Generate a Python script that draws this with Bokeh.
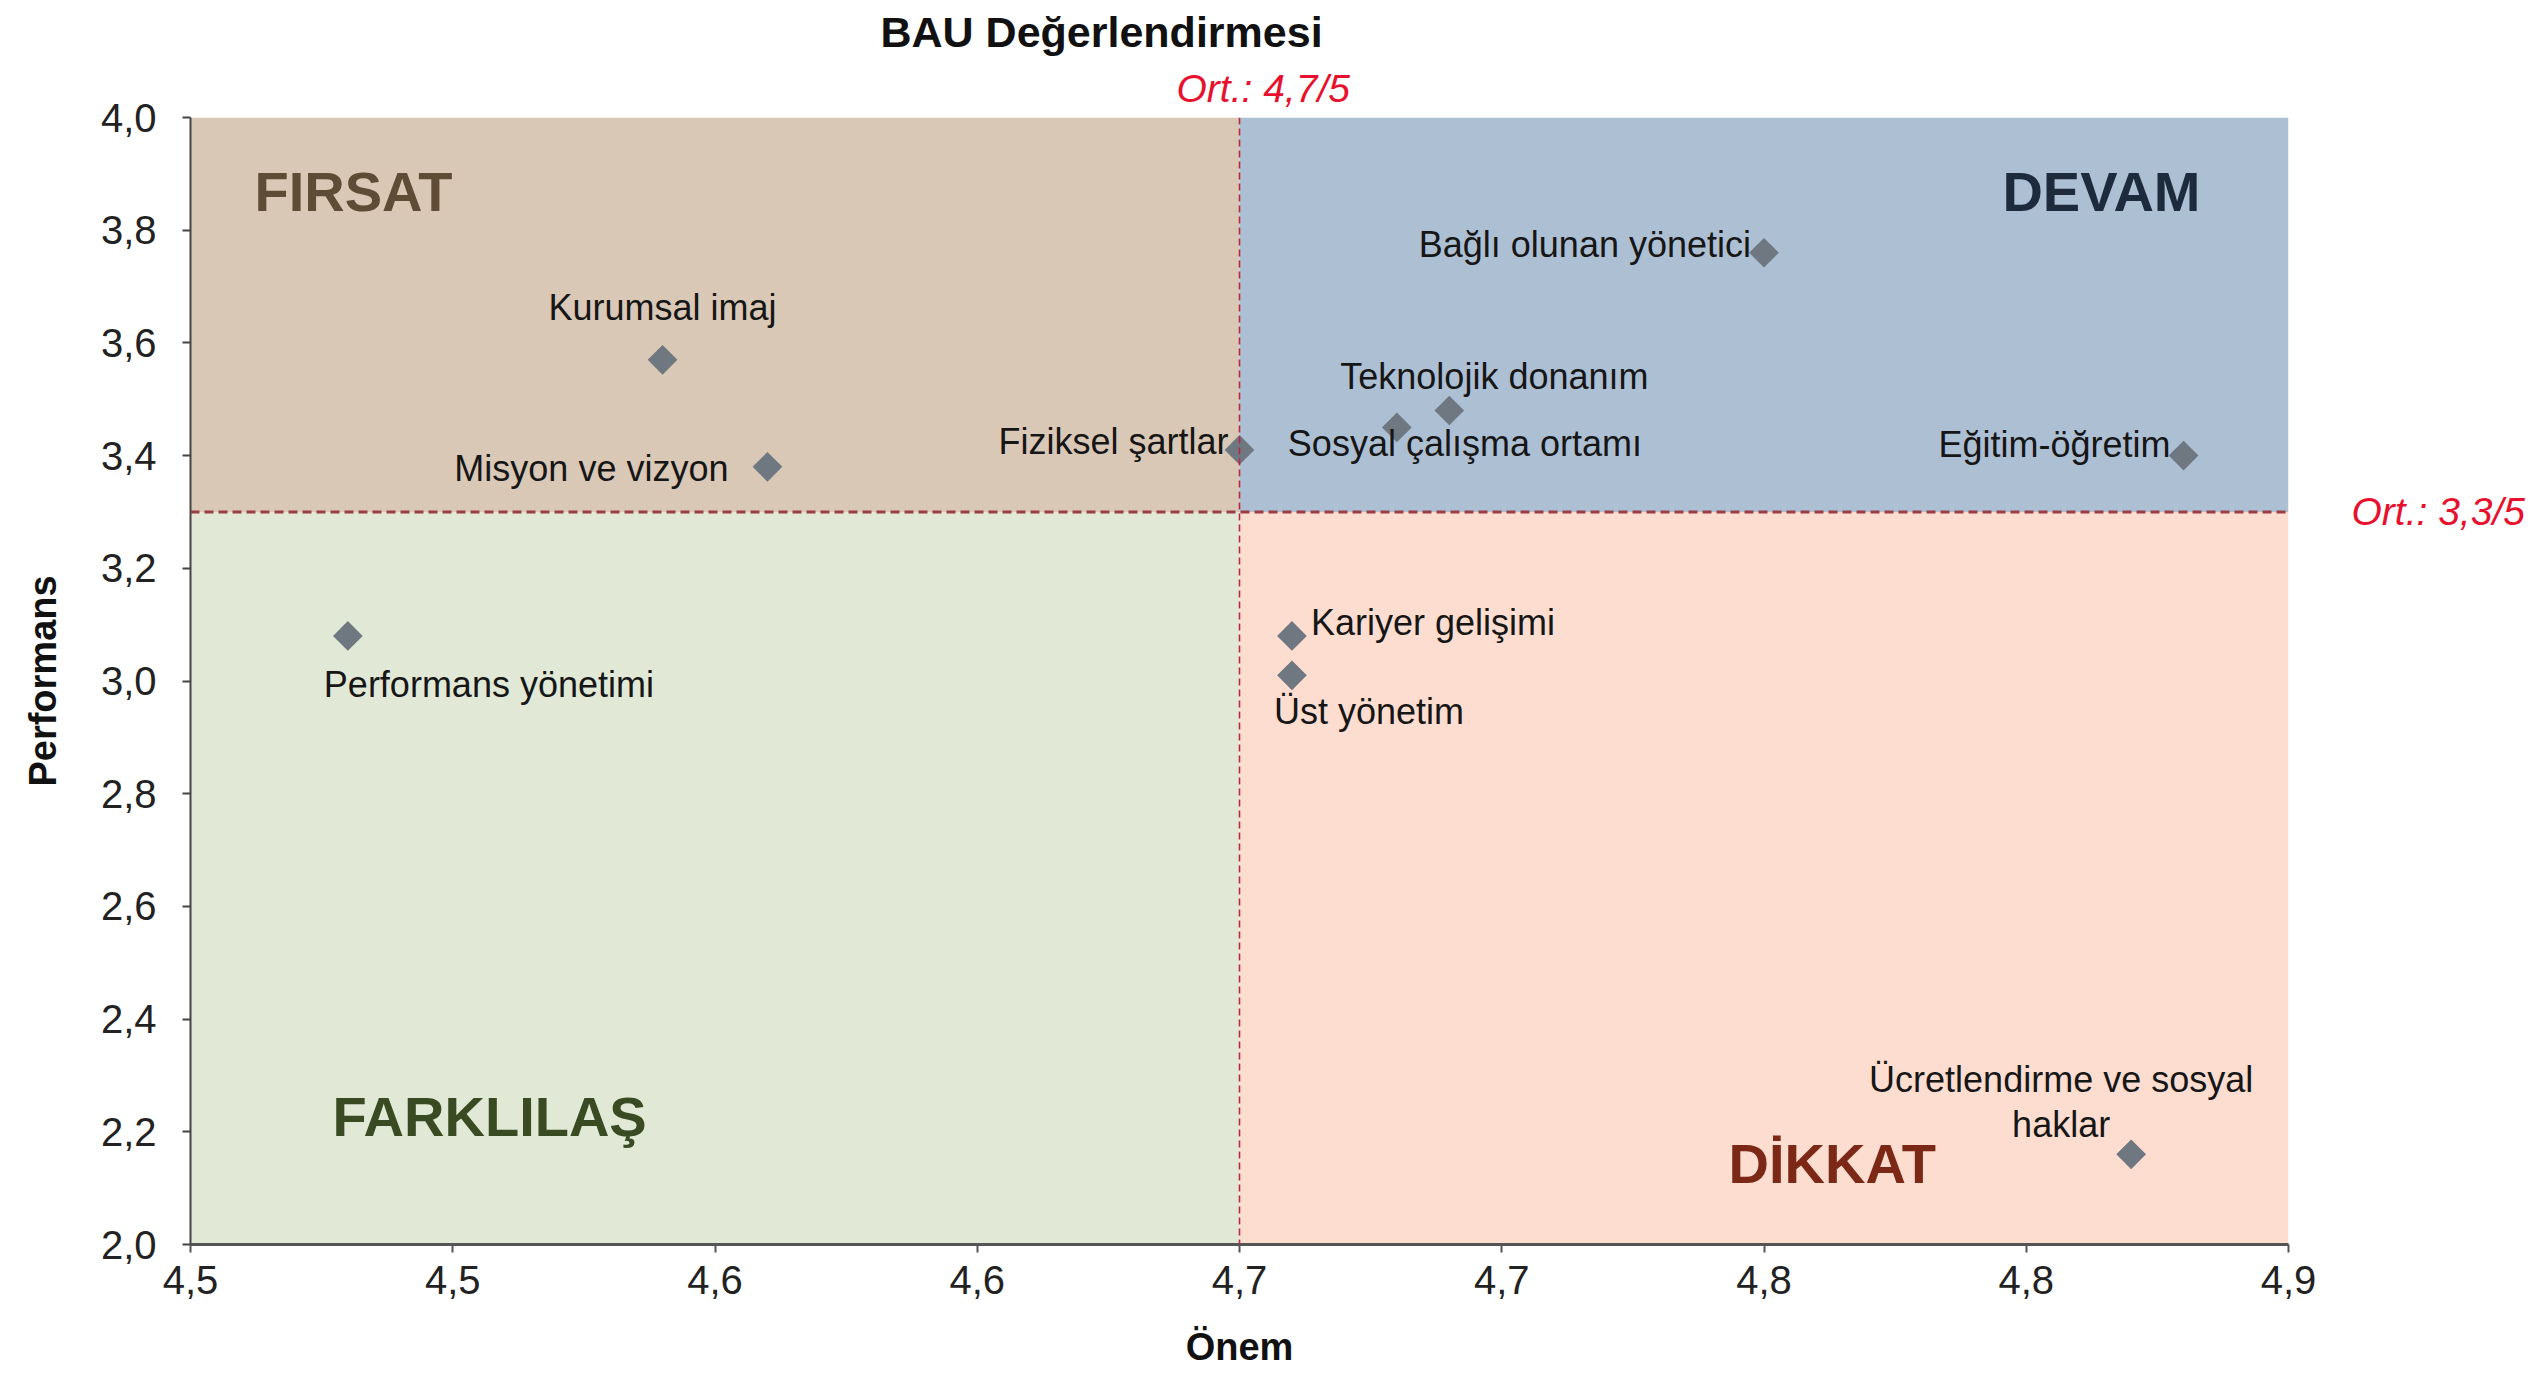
import numpy as np
from bokeh.plotting import figure
from bokeh.models import (Range1d, FixedTicker, Span, Label, ColumnDataSource,
                          Title, LinearAxis)
from bokeh.core.properties import value
from bokeh.embed import file_html
from bokeh.resources import INLINE

# ---------------- data ----------------
item_names = ["Kurumsal imaj", "Misyon ve vizyon", "Fiziksel şartlar",
              "Sosyal çalışma ortamı", "Teknolojik donanım", "Bağlı olunan yönetici",
              "Eğitim-öğretim", "Kariyer gelişimi", "Üst yönetim",
              "Performans yönetimi", "Ücretlendirme ve sosyal\nhaklar"]
importance = [4.59, 4.61, 4.70, 4.73, 4.74, 4.80, 4.88, 4.71, 4.71, 4.53, 4.87]
performance = [3.57, 3.38, 3.41, 3.45, 3.48, 3.76, 3.40, 3.08, 3.01, 3.08, 2.16]

avg_importance = 4.7
avg_performance = 3.3

x_ticks = [4.5, 4.55, 4.6, 4.65, 4.7, 4.75, 4.8, 4.85, 4.9]
x_tick_labels = ["4,5", "4,5", "4,6", "4,6", "4,7", "4,7", "4,8", "4,8", "4,9"]
y_ticks = [2.0, 2.2, 2.4, 2.6, 2.8, 3.0, 3.2, 3.4, 3.6, 3.8, 4.0]
y_tick_labels = ["2,0", "2,2", "2,4", "2,6", "2,8", "3,0", "3,2", "3,4", "3,6", "3,8", "4,0"]

quadrant_names = ["FIRSAT", "DEVAM", "FARKLILAŞ", "DİKKAT"]

title_text = "BAU Değerlendirmesi"
x_title = "Önem"
y_title = "Performans"
avg_x_text = "Ort.: 4,7/5"
avg_y_text = "Ort.: 3,3/5"

# ---------------- layout / style ----------------
W, H = 2540, 1377
B_LEFT, B_TOP = 190, 117
FW, FH = 2098, 1127
B_RIGHT = W - B_LEFT - FW
B_BOTTOM = H - B_TOP - FH
X_LO, X_HI = 4.5, 4.9
Y_LO, Y_HI = 2.0, 4.0

def px2x(px):
    return X_LO + px / FW * (X_HI - X_LO)

def px2y(py):
    return Y_HI - py / FH * (Y_HI - Y_LO)

FONT = "Liberation Sans"
RED = "#E8112D"

# label offsets (pixels) and alignments for point labels
label_dx = [0, -39, -11, -109, -109, -13, -13, 19, -18, -24, -70]
label_dy = [-52, 2, -8, 16, -34, -8, -11, -13, 36, 49, -52]
label_align = ["center", "right", "right", "left", "left", "right", "right",
               "left", "left", "left", "center"]

p = figure(width=W, height=H, output_backend="svg", toolbar_location=None,
           x_range=Range1d(X_LO, X_HI), y_range=Range1d(Y_LO, Y_HI),
           min_border_left=B_LEFT, min_border_right=B_RIGHT,
           min_border_top=B_TOP, min_border_bottom=B_BOTTOM)
p.outline_line_color = None
p.xgrid.visible = False
p.ygrid.visible = False
p.background_fill_color = "white"

# main title (outer) and the importance-average note (inner, next to the frame)
p.title.text = title_text
p.title.text_font = FONT
p.title.text_font_size = "43px"
p.title.text_font_style = "bold"
p.title.text_color = "#111111"
p.title.align = "left"
p.title.offset = 690
p.title.standoff = 2
p.add_layout(Title(text=avg_x_text, text_font=FONT, text_font_size="39px",
                   text_font_style="italic", text_color=RED, align="left",
                   offset=986, standoff=16), "above")

# quadrants
quad_src = ColumnDataSource(dict(
    left=[X_LO, avg_importance, X_LO, avg_importance],
    right=[avg_importance, X_HI, avg_importance, X_HI],
    bottom=[avg_performance, avg_performance, Y_LO, Y_LO],
    top=[Y_HI, Y_HI, avg_performance, avg_performance],
    color=["#D9C8B5", "#ADBFD3", "#E1E8D5", "#FDDDD0"],
))
p.quad(left="left", right="right", bottom="bottom", top="top",
       fill_color="color", line_color=None, source=quad_src)

# average lines
p.add_layout(Span(location=avg_importance, dimension="height", line_color="#B8283F",
                  line_width=1.6, line_dash="7 4"))
p.add_layout(Span(location=avg_performance, dimension="width", line_color="#9A3D45",
                  line_width=3, line_dash="9 5"))

# points
src = ColumnDataSource(dict(x=importance, y=performance, name=item_names,
                            dx=label_dx, dy=label_dy, align=label_align))
p.scatter("x", "y", source=src, marker="square", angle=np.pi / 4, size=21,
          fill_color="#6F7780", line_color=None)
p.text("x", "y", text="name", source=src, x_offset="dx", y_offset="dy",
       text_align="align", text_baseline="middle", text_font=value(FONT),
       text_font_size="36px", text_color="#161616", text_line_height=1.1)

# quadrant labels
q_colors = ["#5E4C36", "#1E2B3C", "#3A4A22", "#7B2816"]
q_pos = [(64, 74, "left"), (2010, 74, "right"), (142, 999, "left"), (1538, 1046, "left")]
for name, col, (qx, qy, al) in zip(quadrant_names, q_colors, q_pos):
    p.add_layout(Label(x=px2x(qx), y=px2y(qy), text=name, text_font=FONT,
                       text_font_size="56px", text_font_style="bold", text_color=col,
                       text_align=al, text_baseline="middle"))

# right-side average annotation as a single-tick axis
avg_axis = LinearAxis(ticker=FixedTicker(ticks=[avg_performance]),
                      major_label_overrides={avg_performance: avg_y_text})
avg_axis.axis_line_color = None
avg_axis.major_tick_line_color = None
avg_axis.minor_tick_line_color = None
avg_axis.major_tick_out = 0
avg_axis.major_tick_in = 0
avg_axis.major_label_standoff = 63
avg_axis.major_label_text_font = FONT
avg_axis.major_label_text_font_size = "39px"
avg_axis.major_label_text_font_style = "italic"
avg_axis.major_label_text_color = RED
p.add_layout(avg_axis, "right")

# axes
xa = p.xaxis[0]
ya = p.yaxis[0]
xa.ticker = FixedTicker(ticks=x_ticks)
xa.major_label_overrides = {t: l for t, l in zip(x_ticks, x_tick_labels)}
ya.ticker = FixedTicker(ticks=y_ticks)
ya.major_label_overrides = {t: l for t, l in zip(y_ticks, y_tick_labels)}
for ax in (xa, ya):
    ax.minor_tick_line_color = None
    ax.major_tick_in = 0
    ax.major_tick_out = 8
    ax.major_label_text_font = FONT
    ax.major_label_text_font_size = "40px"
    ax.major_label_text_color = "#222222"
    ax.axis_label_text_font = FONT
    ax.axis_label_text_font_size = "38px"
    ax.axis_label_text_font_style = "bold"
    ax.axis_label_text_color = "#111111"
xa.axis_line_color = "#555555"
xa.axis_line_width = 3
xa.major_tick_line_color = "#555555"
xa.major_tick_line_width = 2
ya.axis_line_color = "#444444"
ya.axis_line_width = 2
ya.major_tick_line_color = "#444444"
ya.major_tick_line_width = 2
xa.major_label_standoff = 13
ya.major_label_standoff = 26
xa.axis_label = x_title
ya.axis_label = y_title
xa.axis_label_standoff = 29
ya.axis_label_standoff = 34

open("out.html", "w").write(file_html(p, INLINE))
